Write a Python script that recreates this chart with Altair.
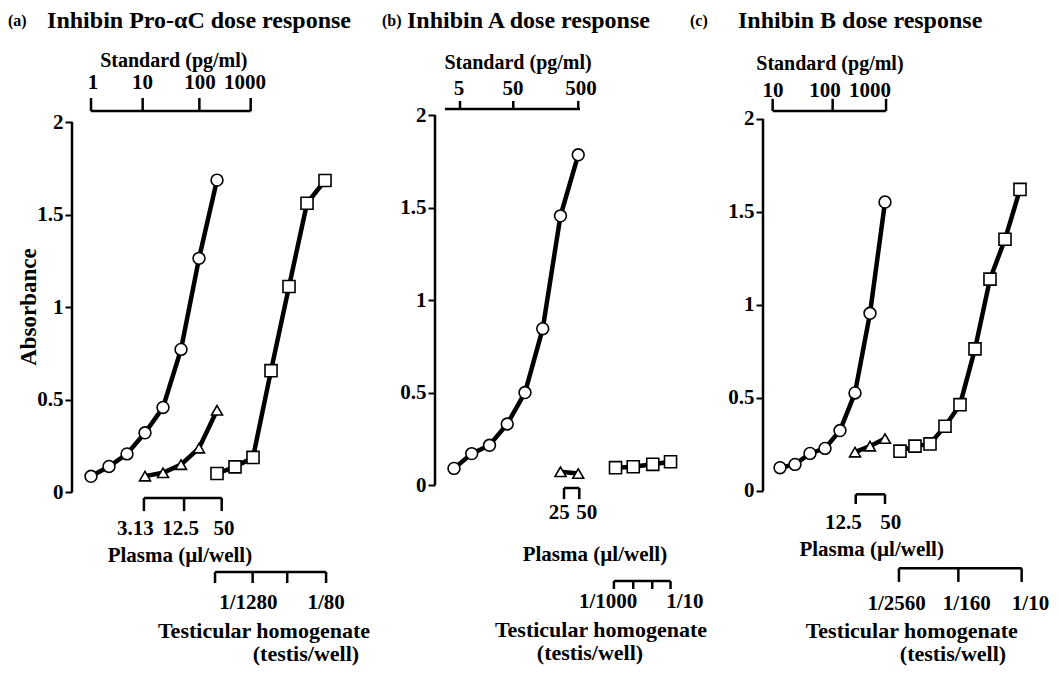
import altair as alt
import pandas as pd

FONT = "Liberation Serif"

# ---------------- data (positions are dose steps along each panel's dose axis) ----------------
# Panel (a) Inhibin Pro-alphaC
A_CIRC_POS = [0, 1, 2, 3, 4, 5, 6, 7]
A_CIRC_ABS = [0.085, 0.138, 0.206, 0.32, 0.457, 0.771, 1.263, 1.686]
A_TRI_POS = [3, 4, 5, 6, 7]
A_TRI_ABS = [0.086, 0.104, 0.148, 0.237, 0.442]
A_SQ_POS = [7, 8, 9, 10, 11, 12, 13]
A_SQ_ABS = [0.10, 0.136, 0.187, 0.656, 1.111, 1.561, 1.684]

# Panel (b) Inhibin A
B_CIRC_POS = [0, 1, 2, 3, 4, 5, 6, 7]
B_CIRC_ABS = [0.09, 0.17, 0.215, 0.33, 0.50, 0.845, 1.455, 1.785]
B_TRI_POS = [6, 7]
B_TRI_ABS = [0.072, 0.062]
B_SQ_POS = [9.1, 10.1, 11.2, 12.2]
B_SQ_ABS = [0.094, 0.099, 0.112, 0.126]

# Panel (c) Inhibin B
C_CIRC_POS = [0, 1, 2, 3, 4, 5, 6, 7]
C_CIRC_ABS = [0.125, 0.143, 0.202, 0.229, 0.325, 0.527, 0.955, 1.553]
C_TRI_POS = [5, 6, 7]
C_TRI_ABS = [0.209, 0.241, 0.282]
C_SQ_POS = [8, 9, 10, 11, 12, 13, 14, 15, 16]
C_SQ_ABS = [0.214, 0.241, 0.253, 0.348, 0.464, 0.764, 1.139, 1.353, 1.621]

# Scale-bar tick labels
A_STD_LABELS = ["1", "10", "100", "1000"]
A_PLA_LABELS = ["3.13", "12.5", "50"]
A_TES_LABELS = ["1/1280", "1/80"]
B_STD_LABELS = ["5", "50", "500"]
B_PLA_LABELS = ["25", "50"]
B_TES_LABELS = ["1/1000", "1/10"]
C_STD_LABELS = ["10", "100", "1000"]
C_PLA_LABELS = ["12.5", "50"]
C_TES_LABELS = ["1/2560", "1/160", "1/10"]

Y_TICKS = [0, 0.5, 1, 1.5, 2]

H = 652

PANELS = [
    dict(
        key="a", title="Inhibin Pro-\u03b1C dose response", lab="(a)",
        xdom=[-1.056, 19.11], width=363, ydom=[-0.9135, 2.611],
        circ=(A_CIRC_POS, A_CIRC_ABS), tri=(A_TRI_POS, A_TRI_ABS), sq=(A_SQ_POS, A_SQ_ABS),
        lab_x=-4.61, title_x=-2.44, title_y=2.546,
        std=dict(lx=[0.11, 2.86, 6.06, 8.56], labels=A_STD_LABELS, tx=[0.0, 2.87, 6.02, 8.87],
                 line=(0.0, 8.87), y=2.059, ytop=2.13, ylab=2.211, name_x=4.6, name_y=2.33),
        pla=dict(lx=[2.46, 4.98, 7.39], labels=A_PLA_LABELS, tx=[2.94, 5.17, 7.26],
                 line=(2.94, 7.26), y=-0.032, ybot=-0.103, ylab=-0.2, name_x=4.94, name_y=-0.346),
        tes=dict(lx=[8.74, 13.06], labels=A_TES_LABELS, tx=[6.89, 8.98, 10.9, 13.06],
                 line=(6.89, 13.06), y=-0.432, ybot=-0.492, ylab=-0.598,
                 name_x=9.61, name_y=-0.751, sub_x=11.94, sub_y=-0.876),
        absorb=True,
    ),
    dict(
        key="b", title="Inhibin A dose response", lab="(b)",
        xdom=[-1.070, 17.41], width=328, ydom=[-0.951, 2.573],
        circ=(B_CIRC_POS, B_CIRC_ABS), tri=(B_TRI_POS, B_TRI_ABS), sq=(B_SQ_POS, B_SQ_ABS),
        lab_x=-4.06, title_x=-2.65, title_y=2.508,
        std=dict(lx=[0.28, 3.32, 7.15], labels=B_STD_LABELS, tx=[0.34, 3.34, 7.0],
                 line=(-0.51, 7.1), y=2.032, ytop=2.076, ylab=2.141, name_x=3.61, name_y=2.281),
        pla=dict(lx=[5.93, 7.48], labels=B_PLA_LABELS, tx=[6.2, 7.06],
                 line=(6.2, 7.06), y=-0.016, ybot=-0.076, ylab=-0.151, name_x=7.94, name_y=-0.378),
        tes=dict(lx=[8.68, 13.01], labels=B_TES_LABELS, tx=[9.01, 10.1, 11.17, 12.2],
                 line=(9.01, 12.2), y=-0.519, ybot=-0.562, ylab=-0.632,
                 name_x=8.28, name_y=-0.784, sub_x=7.66, sub_y=-0.908),
        absorb=False,
    ),
    dict(
        key="c", title="Inhibin B dose response", lab="(c)",
        xdom=[-1.133, 17.2], width=275, ydom=[-0.914, 2.591],
        circ=(C_CIRC_POS, C_CIRC_ABS), tri=(C_TRI_POS, C_TRI_ABS), sq=(C_SQ_POS, C_SQ_ABS),
        lab_x=-6.0, title_x=-2.8, title_y=2.527,
        std=dict(lx=[-0.47, 3.0, 6.0], labels=C_STD_LABELS, tx=[-0.49, 3.51, 7.07],
                 line=(-0.49, 7.07), y=2.043, ytop=2.108, ylab=2.151, name_x=3.33, name_y=2.296),
        pla=dict(lx=[4.22, 7.38], labels=C_PLA_LABELS, tx=[5.05, 7.0],
                 line=(5.05, 7.0), y=-0.018, ybot=-0.07, ylab=-0.17, name_x=6.11, name_y=-0.317),
        tes=dict(lx=[7.78, 12.45, 16.7], labels=C_TES_LABELS, tx=[7.93, 11.89, 16.11],
                 line=(7.93, 16.11), y=-0.416, ybot=-0.489, ylab=-0.609,
                 name_x=8.78, name_y=-0.753, sub_x=11.53, sub_y=-0.876),
        absorb=False,
    ),
]

YAX = alt.Axis(
    values=Y_TICKS, format=".1~f", domain=False, grid=False, title=None,
    labelFont=FONT, labelFontWeight="bold", labelFontSize=21, labelColor="black",
    tickColor="black", tickSize=7, tickWidth=2, labelPadding=2,
    labelFlush=False, labelOverlap=False, labelBound=False,
)


def build_panel(p):
    xs = alt.Scale(domain=p["xdom"], nice=False, zero=False)
    ys = alt.Scale(domain=p["ydom"], nice=False, zero=False)

    def X(f):
        return alt.X(f, type="quantitative", scale=xs, axis=None)

    def Y(f):
        return alt.Y(f, type="quantitative", scale=ys, axis=YAX)

    rows = []
    for name, (pos, ab) in (("circle", p["circ"]), ("triangle-up", p["tri"]), ("square", p["sq"])):
        for x, y in zip(pos, ab):
            rows.append(dict(pos=x, absb=y, series=name))
    df = pd.DataFrame(rows)

    layers = []
    # y axis line 0..2
    layers.append(
        alt.Chart(pd.DataFrame({"x": [p["xdom"][0]], "y": [0], "y2": [2]}))
        .mark_rule(color="black", strokeWidth=2.5)
        .encode(x=X("x"), y=Y("y"), y2="y2")
    )
    layers.append(
        alt.Chart(df).mark_line(color="black", strokeWidth=4.5)
        .encode(x=X("pos"), y=Y("absb"), detail="series:N", order="pos:Q")
    )
    sizes = {"circle": 140, "triangle-up": 120, "square": 145}
    for shp in ("circle", "triangle-up", "square"):
        layers.append(
            alt.Chart(df[df.series == shp])
            .mark_point(shape=shp, size=sizes[shp], filled=True, fill="white",
                        stroke="black", strokeWidth=1.6, opacity=1)
            .encode(x=X("pos"), y=Y("absb"))
        )

    # scale bars
    hrows, trows = [], []
    s = p["std"]
    hrows.append(dict(x=s["line"][0], x2=s["line"][1], y=s["y"]))
    for t in s["tx"]:
        trows.append(dict(x=t, y=s["y"], y2=s["ytop"]))
    for k in ("pla", "tes"):
        s = p[k]
        hrows.append(dict(x=s["line"][0], x2=s["line"][1], y=s["y"]))
        for t in s["tx"]:
            trows.append(dict(x=t, y=s["y"], y2=s["ybot"]))
    layers.append(
        alt.Chart(pd.DataFrame(hrows)).mark_rule(color="black", strokeWidth=2.5)
        .encode(x=X("x"), x2="x2", y=Y("y"))
    )
    layers.append(
        alt.Chart(pd.DataFrame(trows)).mark_rule(color="black", strokeWidth=2.5)
        .encode(x=X("x"), y=Y("y"), y2="y2")
    )

    def text_layer(rows, size, align="center", angle=None):
        d = pd.DataFrame(rows, columns=["x", "y", "t"])
        mk = dict(font=FONT, fontSize=size, fontWeight="bold", align=align,
                  baseline="middle", color="black")
        if angle is not None:
            mk["angle"] = angle
        return alt.Chart(d).mark_text(**mk).encode(x=X("x"), y=Y("y"), text="t:N")

    layers.append(text_layer([(p["lab_x"], p["title_y"], p["lab"])], 16, align="left"))
    layers.append(text_layer([(p["title_x"], p["title_y"], p["title"])], 24, align="left"))

    s = p["std"]
    layers.append(text_layer([(s["name_x"], s["name_y"], "Standard (pg/ml)")], 20))
    layers.append(text_layer([(x, s["ylab"], t) for x, t in zip(s["lx"], s["labels"])], 21))
    s = p["pla"]
    layers.append(text_layer([(x, s["ylab"], t) for x, t in zip(s["lx"], s["labels"])], 21))
    layers.append(text_layer([(s["name_x"], s["name_y"], "Plasma (\u00b5l/well)")], 21))
    s = p["tes"]
    layers.append(text_layer([(x, s["ylab"], t) for x, t in zip(s["lx"], s["labels"])], 21))
    layers.append(text_layer([(s["name_x"], s["name_y"], "Testicular homogenate"),
                              (s["sub_x"], s["sub_y"], "(testis/well)")], 22))
    if p["absorb"]:
        layers.append(text_layer([(-3.47, 1.0, "Absorbance")], 23, angle=270))

    return alt.layer(*layers).properties(width=p["width"], height=H)


charts = [build_panel(p) for p in PANELS]
chart = (
    alt.hconcat(*charts, spacing=0, bounds="flush")
    .properties(padding=0)
    .configure_view(stroke=None)
)

chart.save("out.html", embed_options={"renderer": "svg", "actions": False})
